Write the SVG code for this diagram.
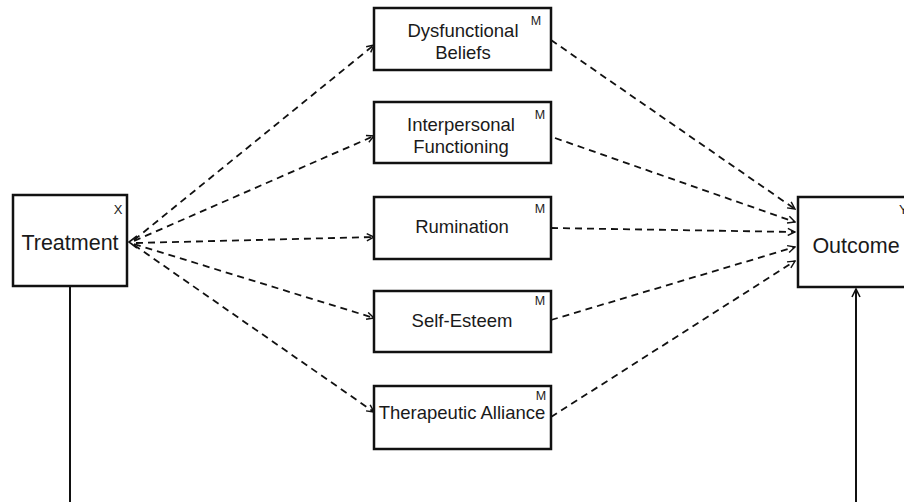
<svg xmlns="http://www.w3.org/2000/svg" width="904" height="502" viewBox="0 0 904 502">
<style>
.box{fill:#fff;stroke:#111;stroke-width:2.5}
.t{font-family:"Liberation Sans",Arial,sans-serif;fill:#1a1a1a;text-anchor:middle}
.big{font-size:21.5px}
.med{font-size:18.5px}
.sup{font-family:"Liberation Sans",Arial,sans-serif;font-size:12.5px;fill:#1a1a1a;text-anchor:middle}
.d{fill:none;stroke:#111;stroke-width:1.8;stroke-dasharray:7,5;marker-end:url(#ah)}
.s{fill:none;stroke:#111;stroke-width:2}
</style>
<defs>
<marker id="ah" viewBox="0 0 10 10" refX="9" refY="5" markerWidth="9" markerHeight="9" orient="auto" markerUnits="userSpaceOnUse">
<path d="M1,1 L9,5 L1,9" fill="none" stroke="#111" stroke-width="1.6"/>
</marker>
<marker id="ah2" viewBox="0 0 10 10" refX="9" refY="5" markerWidth="10" markerHeight="10" orient="auto" markerUnits="userSpaceOnUse">
<path d="M1,1 L9,5 L1,9" fill="none" stroke="#111" stroke-width="1.6"/>
</marker>
</defs>
<rect width="904" height="502" fill="#fff"/>
<g id="connectors">
<path class="d" d="M134,240 L374,45"/>
<path class="d" d="M134,241 L374,136"/>
<path class="d" d="M136,243 L374,237"/>
<path class="d" d="M134,244 L374,318"/>
<path class="d" d="M134,245 L374,412"/>
<path d="M137,236 L129,242 L137,248" fill="none" stroke="#111" stroke-width="1.6"/>
<path class="d" d="M551,40 L795,209"/>
<path class="d" d="M555,138 L795,222"/>
<path class="d" d="M551,228 L795,232"/>
<path class="d" d="M551,320 L795,247"/>
<path class="d" d="M551,417 L795,261"/>
<path class="s" d="M70,287 L70,502"/>
<path class="s" d="M856,502 L856,289" marker-end="url(#ah2)"/>
</g>
<g id="treatment">
<rect class="box" x="13" y="195" width="114" height="91"/>
<text class="t big" x="70" y="250">Treatment</text>
<text class="sup" x="118" y="214" style="font-size:13px">X</text>
</g>
<g id="outcome">
<rect class="box" x="798" y="197" width="130" height="90"/>
<text class="t big" x="856" y="253">Outcome</text>
<text class="sup" x="899" y="214" style="font-size:13px;text-anchor:start">Y</text>
</g>
<g id="dysfunctional">
<rect class="box" x="374" y="8" width="177" height="62"/>
<text class="t med" x="463" y="37">Dysfunctional</text>
<text class="t med" x="463" y="59">Beliefs</text>
<text class="sup" x="536" y="25">M</text>
</g>
<g id="interpersonal">
<rect class="box" x="374" y="102" width="177" height="61"/>
<text class="t med" x="461" y="131">Interpersonal</text>
<text class="t med" x="461" y="153">Functioning</text>
<text class="sup" x="540" y="119">M</text>
</g>
<g id="rumination">
<rect class="box" x="374" y="197" width="177" height="62"/>
<text class="t med" x="462" y="233">Rumination</text>
<text class="sup" x="540" y="213">M</text>
</g>
<g id="selfesteem">
<rect class="box" x="374" y="291" width="177" height="61"/>
<text class="t med" x="462" y="327">Self-Esteem</text>
<text class="sup" x="540" y="305">M</text>
</g>
<g id="alliance">
<rect class="box" x="374" y="386" width="177" height="63"/>
<text class="t med" x="462" y="419">Therapeutic Alliance</text>
<text class="sup" x="541" y="400">M</text>
</g>
</svg>
